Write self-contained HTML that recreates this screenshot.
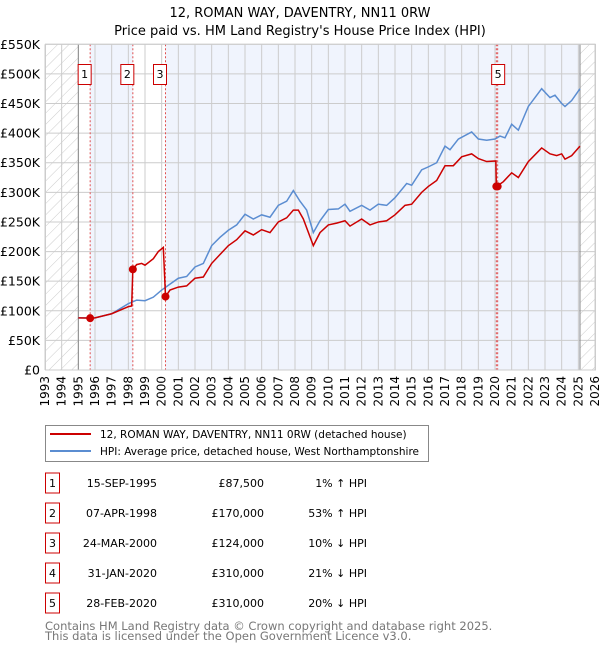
<!DOCTYPE html>
<html><head><meta charset="utf-8"><style>
body{margin:0;background:#fff;font-family:"DejaVu Sans","Liberation Sans",sans-serif;}
svg text{font-family:"DejaVu Sans","Liberation Sans",sans-serif;}
</style></head><body>
<svg id="chart" width="600" height="650" viewBox="0 0 600 650">
<defs><pattern id="hatch" width="8" height="8" patternUnits="userSpaceOnUse" patternTransform="rotate(45)"><line x1="0" y1="0" x2="0" y2="8" stroke="#ccc" stroke-width="1"/></pattern></defs>
<text x="300" y="17" text-anchor="middle" font-size="13">12, ROMAN WAY, DAVENTRY, NN11 0RW</text>
<text x="300" y="35" text-anchor="middle" font-size="13">Price paid vs. HM Land Registry's House Price Index (HPI)</text>
<g id="plot"></g>
<g>
<rect x="45.5" y="425.5" width="383" height="36" fill="#fff" stroke="#888"/>
<line x1="50" y1="434" x2="91" y2="434" stroke="#cc0000" stroke-width="2"/>
<text x="100" y="438" font-size="10.5">12, ROMAN WAY, DAVENTRY, NN11 0RW (detached house)</text>
<line x1="50" y1="451" x2="91" y2="451" stroke="#5b8dd1" stroke-width="2"/>
<text x="100" y="455" font-size="10.5">HPI: Average price, detached house, West Northamptonshire</text>
</g>
<g id="table" font-size="11"></g>
<text x="45" y="630" font-size="11.5" fill="#777">Contains HM Land Registry data © Crown copyright and database right 2025.</text>
<text x="45" y="640" font-size="11.5" fill="#777">This data is licensed under the Open Government Licence v3.0.</text>
</svg>
<script>
const hpiYears=[1995,1996,1997,1998,1998.5,1999,1999.5,2000,2000.5,2001,2001.5,2002,2002.5,2003,2003.5,2004,2004.5,2005,2005.5,2006,2006.5,2007,2007.5,2007.9,2008.3,2008.7,2009.1,2009.5,2010,2010.6,2011,2011.3,2012,2012.5,2013,2013.5,2014,2014.7,2015,2015.6,2016,2016.5,2017,2017.3,2017.8,2018.6,2019,2019.5,2020,2020.3,2020.6,2021,2021.4,2022,2022.8,2023.3,2023.6,2024,2024.2,2024.6,2025.1];
const hpiValues=[88000,88000,95000,112000,118000,117000,123000,135000,145000,155000,158000,174000,180000,210000,224000,236000,245000,263000,255000,262000,258000,278000,285000,303000,285000,270000,232000,252000,271000,272000,280000,268000,278000,270000,280000,278000,291000,315000,312000,338000,343000,350000,378000,372000,390000,402000,390000,388000,390000,395000,392000,415000,405000,445000,475000,460000,464000,450000,445000,455000,475000];
const redYears=[1995,1995.7,1996,1997,1998,1998.2,1998.27,1998.5,1998.8,1999,1999.5,1999.8,2000.1,2000.23,2000.5,2001,2001.5,2002,2002.5,2003,2003.5,2004,2004.5,2005,2005.5,2006,2006.5,2007,2007.5,2007.9,2008.2,2008.5,2009.1,2009.5,2010,2010.5,2011,2011.3,2012,2012.5,2013,2013.5,2014,2014.6,2015,2015.6,2016,2016.5,2017,2017.5,2018,2018.6,2019,2019.5,2020.05,2020.08,2020.2,2020.5,2021,2021.4,2022,2022.8,2023.3,2023.7,2024,2024.2,2024.6,2025.1];
const redValues=[88000,87500,88000,95000,107000,108000,170000,178000,180000,177000,188000,200000,207000,124000,135000,140000,142000,155000,157000,180000,195000,210000,220000,235000,228000,237000,232000,250000,257000,270000,270000,255000,210000,232000,245000,248000,252000,243000,255000,245000,250000,252000,262000,278000,280000,300000,310000,320000,345000,345000,360000,365000,357000,352000,353000,310000,312000,318000,333000,325000,352000,375000,365000,362000,365000,356000,362000,378000];
const saleIds=["1","2","3","4","5"];
const saleYears=[1995.71,1998.27,2000.23,2020.08,2020.16];
const salePrices=[87500,170000,124000,310000,310000];
const saleDates=["15-SEP-1995","07-APR-1998","24-MAR-2000","31-JAN-2020","28-FEB-2020"];
const salePriceLabels=["£87,500","£170,000","£124,000","£310,000","£310,000"];
const saleHpiLabels=["1% ↑ HPI","53% ↑ HPI","10% ↓ HPI","21% ↓ HPI","20% ↓ HPI"];
const yTicks=[0,50000,100000,150000,200000,250000,300000,350000,400000,450000,500000,550000];
const yTickLabels=["£0","£50K","£100K","£150K","£200K","£250K","£300K","£350K","£400K","£450K","£500K","£550K"];
const xTicks=[1993,1994,1995,1996,1997,1998,1999,2000,2001,2002,2003,2004,2005,2006,2007,2008,2009,2010,2011,2012,2013,2014,2015,2016,2017,2018,2019,2020,2021,2022,2023,2024,2025,2026];

const X0=45,X1=595,Y0=370,Y1=44.3,xMin=1993,xMax=2026,yMax=550000;
const xs=v=>X0+(v-xMin)/(xMax-xMin)*(X1-X0);
const ys=v=>Y0-v/yMax*(Y0-Y1);
const NS="http://www.w3.org/2000/svg";
const plot=document.getElementById('plot');
function mk(tag,attrs,parent){const e=document.createElementNS(NS,tag);for(const k in attrs)e.setAttribute(k,attrs[k]);(parent||plot).appendChild(e);return e;}
let e;
e=mk('rect',{x:X0,y:Y1,width:X1-X0,height:Y0-Y1,fill:'#fff'});


e=mk('rect',{x:xs(saleYears[0]),y:Y1,width:xs(saleYears[1])-xs(saleYears[0]),height:Y0-Y1,fill:'#f0f4fd'});


e=mk('rect',{x:xs(saleYears[2]),y:Y1,width:xs(2025.1)-xs(saleYears[2]),height:Y0-Y1,fill:'#f0f4fd'});


e=mk('rect',{x:X0,y:Y1,width:xs(1995)-X0,height:Y0-Y1,fill:'url(#hatch)'});


e=mk('rect',{x:xs(2025.1),y:Y1,width:X1-xs(2025.1),height:Y0-Y1,fill:'url(#hatch)'});


xTicks.forEach((t,i)=>{
 e=mk('line',{x1:xs(t),x2:xs(t),y1:Y1,y2:Y0,stroke:'#ccc','stroke-width':1});
 
 
 e=mk('text',{x:0,y:0,'font-size':12,'text-anchor':'end',transform:`translate(${xs(t)+4},${Y0+6}) rotate(-90)`});
 e.textContent=t;
 
 
});
yTicks.forEach((t,i)=>{
 e=mk('line',{x1:X0,x2:X1,y1:ys(t),y2:ys(t),stroke:'#ccc','stroke-width':1});
 
 
 e=mk('text',{x:40,y:ys(t)+4.5,'font-size':12.5,'text-anchor':'end'});
 e.textContent=yTickLabels[i];
 
 
});
e=mk('line',{x1:xs(1995),x2:xs(1995),y1:Y1,y2:Y0,stroke:'#888'});


e=mk('line',{x1:xs(2025.1),x2:xs(2025.1),y1:Y1,y2:Y0,stroke:'#888'});


saleYears.forEach((y,i)=>{
 e=mk('line',{x1:xs(y),x2:xs(y),y1:Y1,y2:Y0,stroke:'#e05050','stroke-width':1,'stroke-dasharray':'2,2'});
 
 
});
e=mk('polyline',{points:hpiYears.map((y,i)=>xs(y)+','+ys(hpiValues[i])).join(' '),fill:'none',stroke:'#5b8dd1','stroke-width':1.5});


e=mk('polyline',{points:redYears.map((y,i)=>xs(y)+','+ys(redValues[i])).join(' '),fill:'none',stroke:'#cc0000','stroke-width':1.5});


saleYears.forEach((y,i)=>{
 e=mk('circle',{cx:xs(y),cy:ys(salePrices[i]),r:4,fill:'#cc0000'});
 
 
 if(i===3)return;
 const bx=xs(y)-(i===4?6:12);
 e=mk('rect',{x:bx,y:64.5,width:13,height:20,fill:'#fff',stroke:'#cc0000'});
 
 
 e=mk('text',{x:bx+6.5,y:78,'font-size':11,'text-anchor':'middle'});
 e.textContent=saleIds[i];
 
 
});
e=mk('rect',{x:X0+0.5,y:Y1,width:X1-X0,height:Y0-Y1,fill:'none',stroke:'#ccc'});


const tbl=document.getElementById('table');
saleIds.forEach((id,i)=>{
 const cy=483+i*30;
 e=mk('rect',{x:45.5,y:cy-10,width:14,height:20,fill:'#fff',stroke:'#cc0000'},tbl);
 
 
 e=mk('text',{x:52.5,y:cy+4,'text-anchor':'middle'},tbl);e.textContent=id;
 
 
 e=mk('text',{x:157,y:cy+4,'text-anchor':'end'},tbl);e.textContent=saleDates[i];
 
 
 e=mk('text',{x:264,y:cy+4,'text-anchor':'end'},tbl);e.textContent=salePriceLabels[i];
 
 
 e=mk('text',{x:367,y:cy+4,'text-anchor':'end'},tbl);e.textContent=saleHpiLabels[i];
 
 
});
</script>
</body></html>
